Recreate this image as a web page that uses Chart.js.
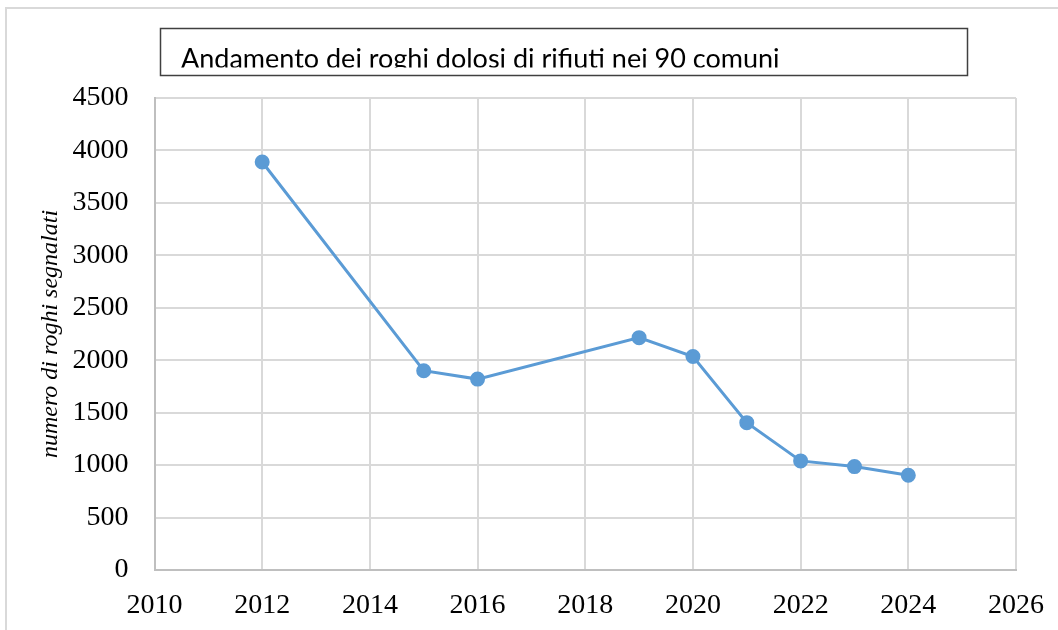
<!DOCTYPE html>
<html>
<head>
<meta charset="utf-8">
<script src="https://cdn.jsdelivr.net/npm/chart.js@4"></script>
<style>
  html, body { margin: 0; padding: 0; background: #ffffff; }
  #graph-chart { width: 1058px; height: 630px; position: relative; }
</style>
</head>
<body>
<div id="graph-chart"><canvas id="graph-chart-canvas"></canvas></div>
<script>
// values
const anni = [2012, 2015, 2016, 2019, 2020, 2021, 2022, 2023, 2024]
const roghi = [3890, 1900, 1820, 2215, 2035, 1405, 1040, 986, 903]

const titolo = 'Andamento dei roghi dolosi di rifiuti nei 90 comuni'
const titoloAsseY = 'numero di roghi segnalati'

Chart.defaults.font.family = 'Liberation Serif'
Chart.defaults.color = '#000000'

// outer frame + the boxed (clipped) title, as in the original image
const framePlugin = {
    id: 'frame',
    afterDraw(chart) {
        const ctx = chart.ctx
        ctx.save()
        ctx.strokeStyle = '#d9d9d9'
        ctx.lineWidth = 2
        ctx.strokeRect(6, 8, 1200, 800)

        ctx.strokeStyle = '#404040'
        ctx.lineWidth = 1.5
        ctx.strokeRect(160.5, 28.5, 807, 47)

        // the text is cut off at its baseline in the source
        ctx.beginPath()
        ctx.rect(161, 29, 805, 38.5)
        ctx.clip()
        ctx.fillStyle = '#000000'
        ctx.font = '27px Lato'
        ctx.textBaseline = 'alphabetic'
        ctx.textAlign = 'left'
        ctx.fillText(titolo, 181, 68)
        ctx.restore()
    }
}

const chart = new Chart(document.getElementById('graph-chart-canvas'), {
    type: 'line',
    data: {
        datasets: [{
            data: anni.map((a, i) => ({ x: a, y: roghi[i] })),
            borderColor: '#5b9bd5',
            backgroundColor: '#5b9bd5',
            borderWidth: 3,
            pointRadius: 6,
            pointHoverRadius: 6,
            tension: 0
        }]
    },
    options: {
        responsive: true,
        maintainAspectRatio: false,
        animation: false,
        layout: { padding: { top: 98, right: 42, bottom: 0, left: 0 } },
        plugins: {
            legend: { display: false },
            tooltip: { enabled: false }
        },
        scales: {
            x: {
                type: 'linear',
                min: 2010,
                max: 2026,
                // fixed axis box so the plot area lands where the original's does
                afterFit: s => {
                    s.height = 60
                    s.paddingLeft = 0
                    s.paddingRight = 0
                },
                ticks: {
                    stepSize: 2,
                    padding: 19,
                    font: { size: 28 },
                    callback: v => String(v)
                },
                grid: { color: '#d9d9d9', lineWidth: 2, drawTicks: false },
                border: { color: '#bfbfbf', width: 2 }
            },
            y: {
                min: 0,
                max: 4500,
                afterFit: s => {
                    s.width = 154.5
                    s.paddingTop = 0
                    s.paddingBottom = 0
                },
                ticks: {
                    stepSize: 500,
                    padding: 26,
                    font: { size: 28 },
                    callback: v => String(v)
                },
                grid: { color: '#d9d9d9', lineWidth: 2, drawTicks: false },
                border: { color: '#bfbfbf', width: 2 },
                title: {
                    display: true,
                    text: titoloAsseY,
                    font: { size: 24, style: 'italic' },
                    padding: { top: 36, bottom: 0 }
                }
            }
        }
    },
    plugins: [framePlugin]
})
</script>
</body>
</html>
